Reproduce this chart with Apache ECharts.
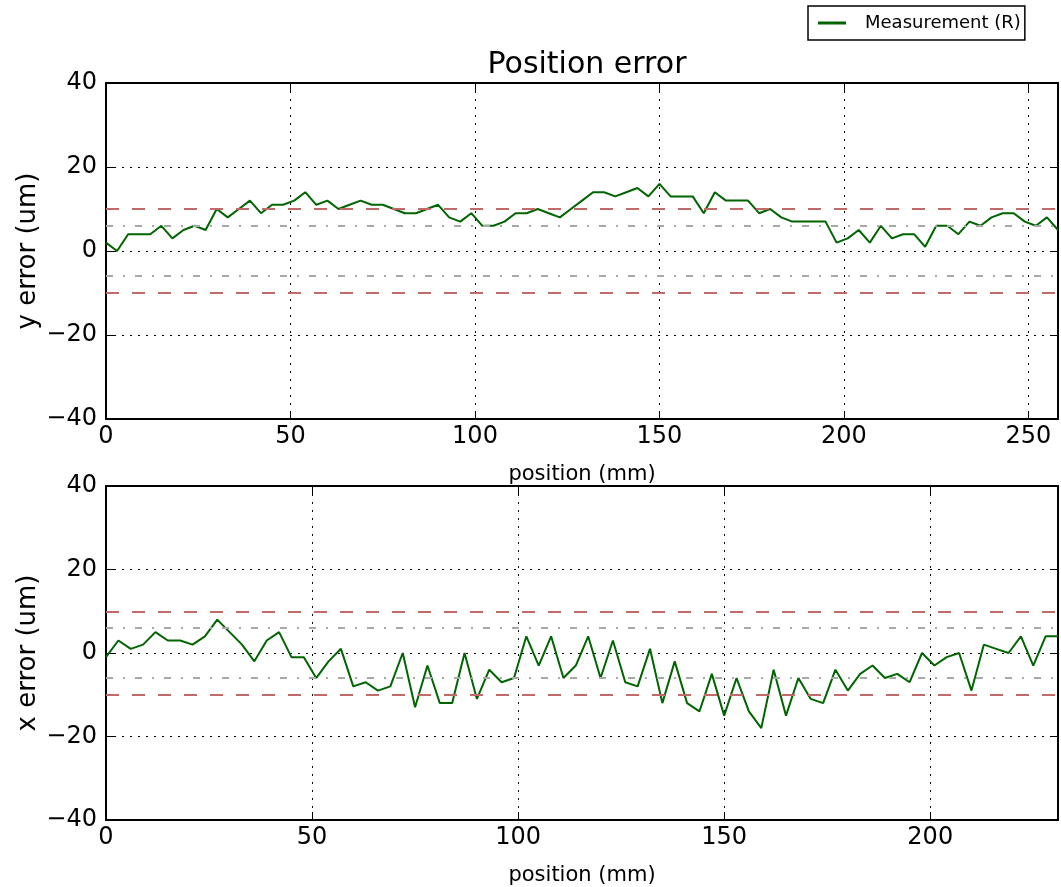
<!DOCTYPE html>
<html>
<head>
<meta charset="utf-8">
<title>Position error</title>
<script src="https://cdn.jsdelivr.net/npm/echarts@6/dist/echarts.min.js"></script>
<style>
  html, body { margin: 0; padding: 0; background: #fff; }
  #chart { width: 1061px; height: 887px; }
</style>
</head>
<body>
<div id="chart"></div>
<script>
// Sample positions along the travel (mm)
const yPositions = [0,3,6,9,12,15,18,21,24,27,30,33,36,39,42,45,48,51,54,57,60,63,66,69,72,75,78,81,84,87,90,93,96,99,102,105,108,111,114,117,120,123,126,129,132,135,138,141,144,147,150,153,156,159,162,165,168,171,174,177,180,183,186,189,192,195,198,201,204,207,210,213,216,219,222,225,228,231,234,237,240,243,246,249,252,255,258];
// Measured y error (um)
const yErrors = [2,0,4,4,4,6,3,5,6,5,10,8,10,12,9,11,11,12,14,11,12,10,11,12,11,11,10,9,9,10,11,8,7,9,6,6,7,9,9,10,9,8,10,12,14,14,13,14,15,13,16,13,13,13,9,14,12,12,12,9,10,8,7,7,7,7,2,3,5,2,6,3,4,4,1,6,6,4,7,6,8,9,9,7,6,8,5];

const xPositions = [0,3,6,9,12,15,18,21,24,27,30,33,36,39,42,45,48,51,54,57,60,63,66,69,72,75,78,81,84,87,90,93,96,99,102,105,108,111,114,117,120,123,126,129,132,135,138,141,144,147,150,153,156,159,162,165,168,171,174,177,180,183,186,189,192,195,198,201,204,207,210,213,216,219,222,225,228,231];
// Measured x error (um)
const xErrors = [-1,3,1,2,5,3,3,2,4,8,5,2,-2,3,5,-1,-1,-6,-2,1,-8,-7,-9,-8,0,-13,-3,-12,-12,0,-11,-4,-7,-6,4,-3,4,-6,-3,4,-6,3,-7,-8,1,-12,-2,-12,-14,-5,-15,-6,-14,-18,-4,-15,-6,-11,-12,-4,-9,-5,-3,-6,-5,-7,0,-3,-1,0,-9,2,1,0,4,-3,4,4];

// Tolerance bands (um)
const toleranceLimit = 10;
const warningLimit = 6;

const yTicks = { min: -40, max: 40, step: 20 };
const xStep = 50;
const yRangeMax = 258;
const xRangeMax = 231;

const FONT = 'DejaVu Sans';
const minusFmt = v => (v < 0 ? '\u2212' + Math.abs(v) : String(v));

const chart = echarts.init(document.getElementById('chart'), null, { renderer: 'canvas' });

const dottedGrid = { show: true, lineStyle: { color: '#000', width: 1, type: [2, 6] } };

function xAxesFor(gridIndex, max) {
  return [
    {
      type: 'value', gridIndex, position: 'bottom', min: 0, max, interval: xStep,
      name: 'position (mm)', nameLocation: 'middle', nameGap: 45, nameMoveOverlap: false,
      nameTextStyle: { fontFamily: FONT, fontSize: 21, color: '#000' },
      axisLine: { show: true, onZero: false, lineStyle: { color: '#000', width: 2 } },
      axisTick: { show: true, inside: true, length: 8, lineStyle: { color: '#000', width: 1 } },
      axisLabel: { fontFamily: FONT, fontSize: 24, color: '#000', margin: 6,
        formatter: v => (v % xStep === 0 ? minusFmt(v) : '') },
      splitLine: dottedGrid
    },
    {
      type: 'value', gridIndex, position: 'top', min: 0, max, interval: xStep,
      axisLine: { show: true, onZero: false, lineStyle: { color: '#000', width: 2 } },
      axisTick: { show: true, inside: true, length: 8, lineStyle: { color: '#000', width: 1 } },
      axisLabel: { show: false },
      splitLine: { show: false }
    }
  ];
}

function yAxesFor(gridIndex, name) {
  return [
    {
      type: 'value', gridIndex, position: 'left',
      min: yTicks.min, max: yTicks.max, interval: yTicks.step,
      name, nameLocation: 'middle', nameGap: 65, nameMoveOverlap: false,
      nameTextStyle: { fontFamily: FONT, fontSize: 26, color: '#000' },
      axisLine: { show: true, onZero: false, lineStyle: { color: '#000', width: 2 } },
      axisTick: { show: true, inside: true, length: 8, lineStyle: { color: '#000', width: 1 } },
      axisLabel: { fontFamily: FONT, fontSize: 24, color: '#000', margin: 9, formatter: minusFmt },
      splitLine: dottedGrid
    },
    {
      type: 'value', gridIndex, position: 'right',
      min: yTicks.min, max: yTicks.max, interval: yTicks.step,
      axisLine: { show: true, onZero: false, lineStyle: { color: '#000', width: 2 } },
      axisTick: { show: true, inside: true, length: 8, lineStyle: { color: '#000', width: 1 } },
      axisLabel: { show: false },
      splitLine: { show: false }
    }
  ];
}

const bandLines = {
  silent: true,
  symbol: 'none',
  label: { show: false },
  data: [
    { yAxis: toleranceLimit, lineStyle: { color: '#c06a6a', width: 2, type: [13, 13] } },
    { yAxis: -toleranceLimit, lineStyle: { color: '#c06a6a', width: 2, type: [13, 13] } },
    { yAxis: warningLimit, lineStyle: { color: '#a8a8a8', width: 2, type: [7, 10, 2, 10] } },
    { yAxis: -warningLimit, lineStyle: { color: '#a8a8a8', width: 2, type: [7, 10, 2, 10] } }
  ]
};

function lineSeries(xAxisIndex, yAxisIndex, xs, ys) {
  return {
    name: 'Measurement (R)',
    type: 'line',
    xAxisIndex, yAxisIndex,
    data: xs.map((x, i) => [x, ys[i]]),
    showSymbol: false,
    symbol: 'none',
    lineStyle: { color: '#006400', width: 2 },
    itemStyle: { color: '#006400' },
    animation: false,
    markLine: bandLines,
    z: 3
  };
}

chart.setOption({
  animation: false,
  backgroundColor: '#fff',
  title: {
    text: 'Position error',
    left: 582, top: 45, textAlign: 'center',
    textStyle: { fontFamily: FONT, fontSize: 30, fontWeight: 'normal', color: '#000' }
  },
  legend: {
    left: 808, top: 6,
    padding: [8, 4, 8, 10],
    borderColor: '#000', borderWidth: 1.5, borderRadius: 0,
    itemWidth: 28, itemHeight: 3,
    icon: 'rect',
    data: [{ name: 'Measurement (R)', itemStyle: { color: '#006400' } }],
    formatter: n => '{t|' + n + '}',
    textStyle: {
      fontFamily: FONT, fontSize: 18, color: '#000',
      rich: { t: { fontFamily: FONT, fontSize: 18, color: '#000', padding: [0, 0, 0, 14] } }
    }
  },
  grid: [
    { left: 106, top: 83, width: 953, height: 336, containLabel: false },
    { left: 106, top: 486, width: 953, height: 336, containLabel: false }
  ],
  xAxis: [...xAxesFor(0, yRangeMax), ...xAxesFor(1, xRangeMax)],
  yAxis: [...yAxesFor(0, 'y error (um)'), ...yAxesFor(1, 'x error (um)')],
  series: [
    lineSeries(0, 0, yPositions, yErrors),
    lineSeries(2, 2, xPositions, xErrors)
  ]
});
</script>
</body>
</html>
